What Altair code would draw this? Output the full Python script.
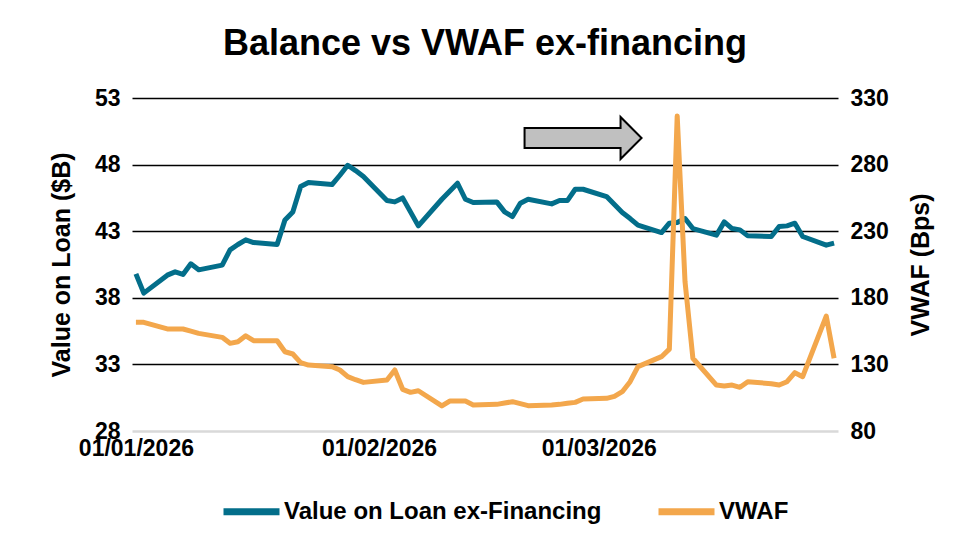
import altair as alt
import pandas as pd

dates = [
    "2026-01-01", "2026-01-02", "2026-01-05", "2026-01-06", "2026-01-07", "2026-01-08", "2026-01-09",
    "2026-01-12", "2026-01-13", "2026-01-14", "2026-01-15", "2026-01-16",
    "2026-01-19", "2026-01-20", "2026-01-21", "2026-01-22", "2026-01-23",
    "2026-01-26", "2026-01-27", "2026-01-28", "2026-01-29", "2026-01-30",
    "2026-02-02", "2026-02-03", "2026-02-04", "2026-02-05", "2026-02-06",
    "2026-02-09", "2026-02-10", "2026-02-11", "2026-02-12", "2026-02-13",
    "2026-02-16", "2026-02-17", "2026-02-18", "2026-02-19", "2026-02-20",
    "2026-02-23", "2026-02-24", "2026-02-25", "2026-02-26", "2026-02-27",
    "2026-03-02", "2026-03-03", "2026-03-04", "2026-03-05", "2026-03-06",
    "2026-03-09", "2026-03-10", "2026-03-11", "2026-03-12", "2026-03-13",
    "2026-03-16", "2026-03-17", "2026-03-18", "2026-03-19", "2026-03-20",
    "2026-03-23", "2026-03-24", "2026-03-25", "2026-03-26", "2026-03-27",
    "2026-03-30", "2026-03-31",
]

balance = [
    39.8, 38.35, 39.7, 39.95, 39.75, 40.55, 40.1,
    40.45, 41.6, 42.0, 42.35, 42.15,
    42.0, 43.85, 44.45, 46.35, 46.65,
    46.5, 47.2, 47.95, 47.55, 47.1,
    45.3, 45.2, 45.5, 44.45, 43.4,
    45.4, 46.0, 46.6, 45.4, 45.15,
    45.2, 44.45, 44.1, 45.1, 45.4,
    45.05, 45.3, 45.3, 46.15, 46.15,
    45.6, 45.0, 44.4, 43.95, 43.45,
    42.9, 43.6, 43.65, 43.95, 43.2,
    42.7, 43.7, 43.2, 43.1, 42.65,
    42.6, 43.35, 43.4, 43.6, 42.6,
    41.95, 42.1,
]

vwaf = [
    161.6, 161.6, 156.6, 156.6, 156.6, 155.0, 153.3,
    150.3, 145.8, 147.0, 151.5, 147.8,
    147.8, 139.5, 137.8, 131.3, 129.5,
    128.3, 125.8, 120.8, 118.5, 116.5,
    118.3, 125.8, 111.3, 109.0, 110.2,
    98.8, 102.5, 102.5, 102.5, 99.5,
    100.0, 101.0, 102.0, 100.5, 99.0,
    99.5, 100.0, 100.8, 101.5, 104.0,
    104.5, 106.0, 109.5, 117.0, 128.3,
    135.8, 141.5, 316.5, 192.0, 134.6,
    114.5, 113.8, 114.5, 112.8, 117.0,
    115.5, 114.5, 117.0, 123.8, 120.8,
    166.3, 134.6,
]

series_names = ["Value on Loan ex-Financing", "VWAF"]
series_colors = ["#036e8a", "#f3a74c"]

left_ticks = [28, 33, 38, 43, 48, 53]
right_ticks = [80, 130, 180, 230, 280, 330]
x_tick_dates = [(2026, 1, 1), (2026, 2, 1), (2026, 3, 1)]

arrow_date = ["2026-02-27"]
arrow_value = [50.0]

FONT = "Liberation Sans"

df = pd.DataFrame({"date": dates, "balance": balance, "vwaf": vwaf})
arrow_df = pd.DataFrame({"date": arrow_date, "balance": arrow_value})

x_enc = alt.X(
    "date:T",
    scale=alt.Scale(
        type="utc",
        domain=[
            alt.DateTime(year=2025, month=12, date=31, hours=12, utc=True),
            alt.DateTime(year=2026, month=3, date=31, hours=12, utc=True),
        ],
    ),
    axis=alt.Axis(
        values=[alt.DateTime(year=y, month=m, date=d, utc=True) for (y, m, d) in x_tick_dates],
        labelExpr="utcFormat(datum.value, '%d/%m/%Y')",
        labelAngle=0,
        labelFontSize=23,
        labelFont=FONT,
        labelFontWeight="bold",
        labelColor="black",
        labelPadding=6,
        labelOverlap=False,
        ticks=False,
        domain=False,
        grid=False,
        title=None,
    ),
)

y_left = alt.Y(
    "balance:Q",
    scale=alt.Scale(domain=[28, 53], nice=False, zero=False),
    axis=alt.Axis(
        values=left_ticks,
        title="Value on Loan ($B)",
        titleFont=FONT,
        titleFontSize=25,
        titleFontWeight="bold",
        titleColor="black",
        titlePadding=20,
        labelFont=FONT,
        labelFontSize=23,
        labelFontWeight="bold",
        labelColor="black",
        labelPadding=12,
        ticks=False,
        domain=False,
        grid=True,
        gridColor={"condition": {"test": "datum.value === 28", "value": "#d9d9d9"}, "value": "#000000"},
        gridWidth={"condition": {"test": "datum.value === 28", "value": 2.5}, "value": 1.5},
        gridOpacity=1,
    ),
)

y_right = alt.Y(
    "vwaf:Q",
    scale=alt.Scale(domain=[80, 330], nice=False, zero=False),
    axis=alt.Axis(
        orient="right",
        values=right_ticks,
        title="VWAF (Bps)",
        titleAngle=270,
        titleBaseline="top",
        titleFont=FONT,
        titleFontSize=25,
        titleFontWeight="bold",
        titleColor="black",
        titlePadding=20,
        labelFont=FONT,
        labelFontSize=23,
        labelFontWeight="bold",
        labelColor="black",
        labelPadding=12,
        ticks=False,
        domain=False,
        grid=False,
    ),
)

color_scale = alt.Scale(domain=series_names, range=series_colors)
legend = alt.Legend(
    orient="none",
    legendX=88,
    legendY=382,
    direction="horizontal",
    title=None,
    symbolType="stroke",
    symbolSize=3136,
    symbolStrokeWidth=7,
    labelFont=FONT,
    labelFontSize=24,
    labelFontWeight="bold",
    labelColor="black",
    labelLimit=500,
    labelOffset=1,
    columnPadding=42,
)

teal = (
    alt.Chart(df)
    .transform_calculate(series="'Value on Loan ex-Financing'")
    .mark_line(strokeWidth=5, strokeJoin="round")
    .encode(x=x_enc, y=y_left, color=alt.Color("series:N", scale=color_scale, legend=legend))
)

arrow_path = "M-1,-0.171 L0.641,-0.171 L0.641,-0.359 L1,0 L0.641,0.359 L0.641,0.171 L-1,0.171 Z"
arrow = (
    alt.Chart(arrow_df)
    .mark_point(shape=arrow_path, size=13689, filled=True, fill="#c0c0c0",
                stroke="#000000", strokeWidth=2, opacity=1)
    .encode(x=x_enc, y=y_left)
)

orange = (
    alt.Chart(df)
    .transform_calculate(series="'VWAF'")
    .mark_line(strokeWidth=5, strokeJoin="round")
    .encode(x=x_enc, y=y_right, color=alt.Color("series:N", scale=color_scale, legend=legend))
)

chart = (
    alt.layer(alt.layer(teal, arrow), orange)
    .resolve_scale(y="independent")
    .properties(
        width=706,
        height=333,
        title=alt.TitleParams(
            "Balance vs VWAF ex-financing",
            font=FONT,
            fontSize=36,
            fontWeight="bold",
            color="black",
            anchor="middle",
            offset=24,
        ),
        autosize=alt.AutoSizeParams(type="none"),
        padding={"left": 124, "top": 90, "right": 107, "bottom": 100},
        background="white",
    )
    .configure_view(stroke=None)
)

chart.save("out.html", embed_options={"renderer": "svg", "actions": False})
